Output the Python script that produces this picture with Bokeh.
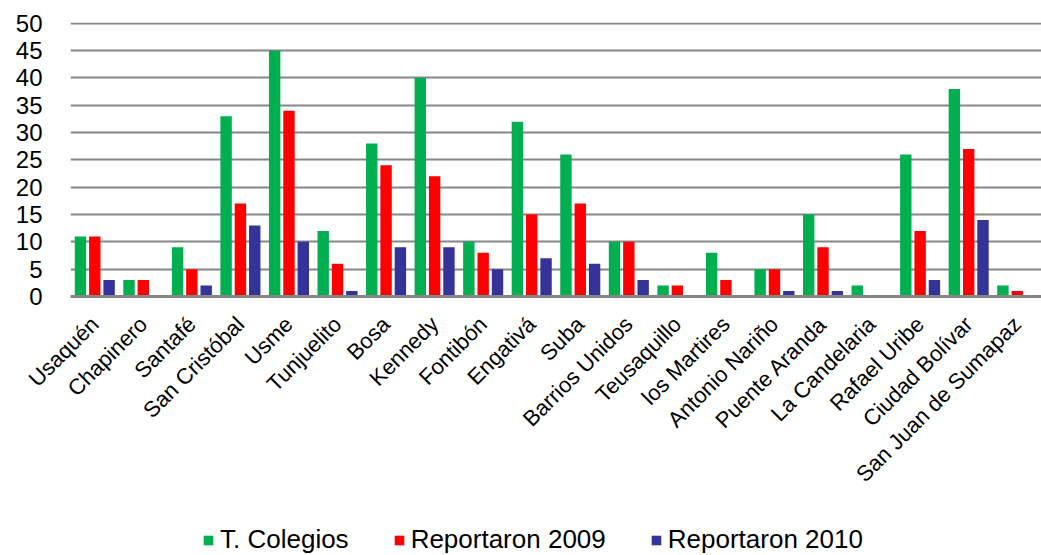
import math
from bokeh.plotting import figure
from bokeh.layouts import column
from bokeh.models import ColumnDataSource, FactorRange, Range1d, Legend, LegendItem
from bokeh.transform import dodge
from bokeh.embed import file_html
from bokeh.resources import INLINE

categories = ["Usaquén", "Chapinero", "Santafé", "San Cristóbal", "Usme", "Tunjuelito",
              "Bosa", "Kennedy", "Fontibón", "Engativá", "Suba", "Barrios Unidos",
              "Teusaquillo", "los Martires", "Antonio Nariño", "Puente Aranda",
              "La Candelaria", "Rafael Uribe", "Ciudad Bolívar", "San Juan de Sumapaz"]
colegios = [11, 3, 9, 33, 45, 12, 28, 40, 10, 32, 26, 10, 2, 8, 5, 15, 2, 26, 38, 2]
rep2009 = [11, 3, 5, 17, 34, 6, 24, 22, 8, 15, 17, 10, 2, 3, 5, 9, 0, 12, 27, 1]
rep2010 = [3, 0, 2, 13, 10, 1, 9, 9, 5, 7, 6, 3, 0, 0, 1, 1, 0, 3, 14, 0]
series_names = ["T. Colegios", "Reportaron 2009", "Reportaron 2010"]
series_colors = ["#00B050", "#FF0000", "#333399"]
y_ticks = [0, 5, 10, 15, 20, 25, 30, 35, 40, 45, 50]

source = ColumnDataSource(dict(cat=categories, col=colegios, r09=rep2009, r10=rep2010))

FONT = "Liberation Sans"

p = figure(width=1041, height=520, x_range=FactorRange(*categories, range_padding=0),
           y_range=Range1d(0, 50.15), output_backend="svg", toolbar_location=None,
           min_border_left=70, min_border_right=0, min_border_top=22, min_border_bottom=224)
p.x_range.range_padding = 0
p.outline_line_color = None

bw = 0.235
p.vbar(x=dodge("cat", -0.295, range=p.x_range), top="col", width=bw, source=source,
       fill_color=series_colors[0], line_color=None)
p.vbar(x=dodge("cat", 0.0, range=p.x_range), top="r09", width=bw, source=source,
       fill_color=series_colors[1], line_color=None)
p.vbar(x=dodge("cat", 0.295, range=p.x_range), top="r10", width=bw, source=source,
       fill_color=series_colors[2], line_color=None)

# axes
p.yaxis.ticker = y_ticks
p.yaxis.axis_line_color = None
p.yaxis.major_tick_line_color = None
p.yaxis.minor_tick_line_color = None
p.yaxis.major_label_text_font = FONT
p.yaxis.major_label_text_font_size = "24px"
p.yaxis.major_label_text_color = "black"
p.yaxis.major_label_standoff = 22

p.xaxis.axis_line_color = "#868686"
p.xaxis.axis_line_width = 3
p.xaxis.major_tick_line_color = None
p.xaxis.minor_tick_line_color = None
p.xaxis.major_label_orientation = math.pi / 4
p.xaxis.major_label_text_font = FONT
p.xaxis.major_label_text_font_size = "22px"
p.xaxis.major_label_text_color = "black"
p.xaxis.major_label_standoff = 18

p.xgrid.grid_line_color = None
p.ygrid.grid_line_color = "#868686"
p.ygrid.grid_line_width = 2

# legend strip below the chart
lg = figure(width=1041, height=35, x_range=(0, 1), y_range=(0, 1), output_backend="svg",
            toolbar_location=None, min_border=0)
lg.axis.visible = False
lg.grid.visible = False
lg.outline_line_color = None
items = []
for name, colr in zip(series_names, series_colors):
    r = lg.vbar(x=[-10], top=[-10], width=0.1, fill_color=colr, line_color=None)
    items.append(LegendItem(label=name, renderers=[r]))

legend = Legend(items=items, orientation="horizontal", location=(132, 0),
                glyph_width=12, glyph_height=12, label_standoff=6, spacing=44,
                label_text_font=FONT, label_text_font_size="26px",
                label_text_color="black", padding=0, margin=0,
                border_line_color=None, background_fill_alpha=0)
lg.add_layout(legend, "center")

layout = column(p, lg, spacing=0)
open("out.html", "w").write(file_html(layout, INLINE))
